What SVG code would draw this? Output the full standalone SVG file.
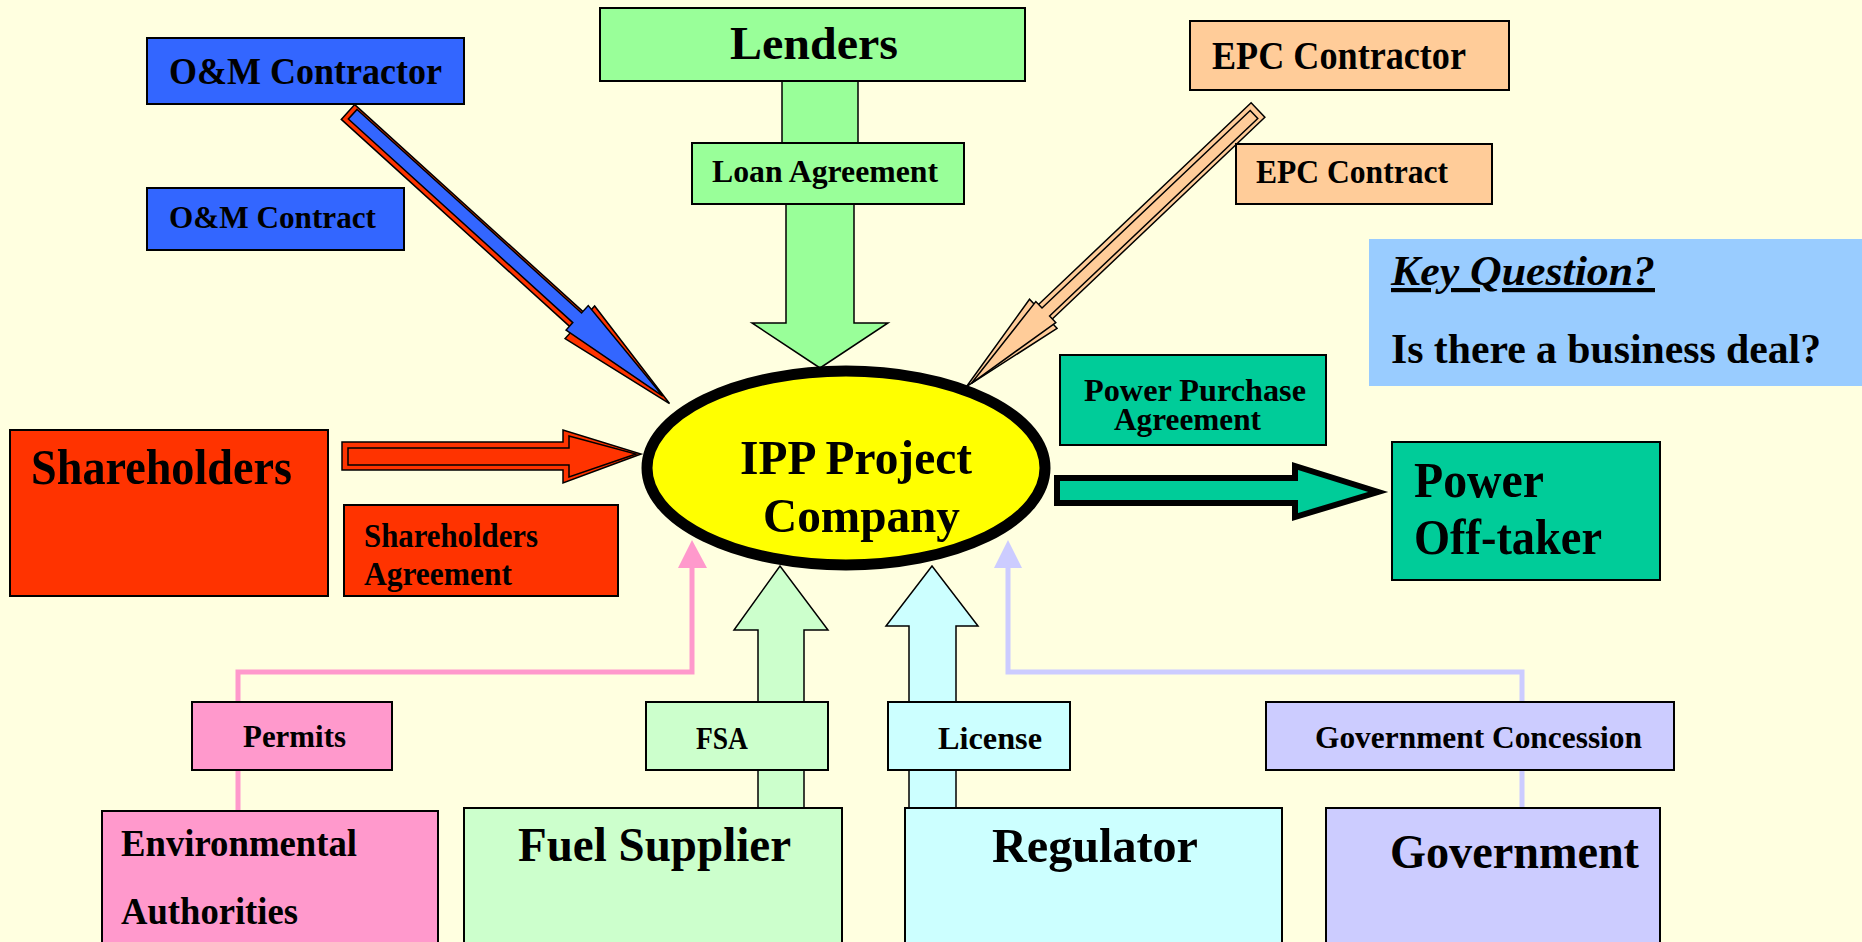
<svg xmlns="http://www.w3.org/2000/svg" width="1862" height="942" viewBox="0 0 1862 942">
  <style>
    .box { stroke: #000; stroke-width: 2; }
    .t { font-family: "Liberation Serif", "Times New Roman", serif; font-weight: bold; fill: #000; }
    .blk { stroke: #000; stroke-width: 1.5; stroke-linejoin: miter; }
    .om { fill: #3366FF; }
    .red { fill: #FF3300; }
    .green { fill: #99FF99; }
    .peach { fill: #FFCC99; }
    .teal { fill: #00CC99; }
    .pink { fill: #FF99CC; }
    .lgreen { fill: #CCFFCC; }
    .cyan { fill: #CCFFFF; }
    .lav { fill: #CCCCFF; }
    .line { fill: none; stroke-width: 5; stroke-linejoin: miter; }
  </style>

  <rect x="0" y="0" width="1862" height="942" fill="#FFFFE0"/>

  <!-- connectors -->
  <g id="connectors">
    <!-- Lenders -> IPP -->
    <rect class="green blk" x="782" y="81" width="76" height="63"/>
    <polygon class="green blk" points="786,204 854,204 854,323 888,323 820,368 752,323 786,323"/>

    <!-- O&M Contractor -> IPP (bevelled 3D arrow) -->
    <g transform="translate(348,112) rotate(42.2)">
      <polygon class="red blk" points="0,-10 313,-10 313,-22 434,0 313,22 313,10 0,10"/>
      <polygon class="om blk" points="5,-8 308,-8 308,-18 424,-1 308,15 308,5 5,5"/>
    </g>

    <!-- EPC Contractor -> IPP (bevelled 3D arrow) -->
    <g transform="translate(1258,110) rotate(136.5)">
      <polygon class="peach blk" points="0,-10 296,-10 296,-20 402,0 296,20 296,10 0,10"/>
      <polygon class="peach blk" points="6,-6 293,-6 293,-15 396,-1 293,14 293,5 6,5"/>
    </g>

    <!-- Shareholders -> IPP -->
    <polygon class="red blk" points="342,442 563,442 563,430 641,454 563,483 563,470 342,470"/>
    <polygon class="red blk" points="348,448 569,448 569,436 636,454 569,477 569,465 348,465"/>

    <!-- IPP -> Power Off-taker -->
    <polygon class="teal" stroke="#000" stroke-width="6" points="1057,478 1295,478 1295,466 1378,492 1295,517 1295,503 1057,503"/>

    <!-- Environmental Authorities -> IPP -->
    <polyline class="line" stroke="#FF99CC" points="238,811 238,672 692,672 692,566"/>
    <polygon class="pink" points="678,568 707,568 692,540"/>

    <!-- Fuel Supplier -> IPP -->
    <polygon class="lgreen blk" points="758,808 758,630 734,630 780,566 828,630 804,630 804,808"/>

    <!-- Regulator -> IPP -->
    <polygon class="cyan blk" points="909,808 909,626 886,626 932,566 978,626 956,626 956,808"/>

    <!-- Government -> IPP -->
    <polyline class="line" stroke="#CCCCFF" points="1522,808 1522,672 1008,672 1008,566"/>
    <polygon class="lav" points="994,568 1022,568 1008,540"/>
  </g>

  <g id="om-contractor">
    <rect class="box om" x="147" y="38" width="317" height="66"/>
    <text class="t" x="169" y="84" font-size="38" textLength="273" lengthAdjust="spacingAndGlyphs">O&amp;M Contractor</text>
  </g>

  <g id="om-contract">
    <rect class="box om" x="147" y="188" width="257" height="62"/>
    <text class="t" x="169" y="228" font-size="32" textLength="207" lengthAdjust="spacingAndGlyphs">O&amp;M Contract</text>
  </g>

  <g id="lenders">
    <rect class="box green" x="600" y="8" width="425" height="73"/>
    <text class="t" x="730" y="59" font-size="46" textLength="168" lengthAdjust="spacingAndGlyphs">Lenders</text>
  </g>

  <g id="loan-agreement">
    <rect class="box green" x="692" y="143" width="272" height="61"/>
    <text class="t" x="712" y="182" font-size="31" textLength="226" lengthAdjust="spacingAndGlyphs">Loan Agreement</text>
  </g>

  <g id="epc-contractor">
    <rect class="box peach" x="1190" y="21" width="319" height="69"/>
    <text class="t" x="1212" y="69" font-size="39" textLength="254" lengthAdjust="spacingAndGlyphs">EPC Contractor</text>
  </g>

  <g id="epc-contract">
    <rect class="box peach" x="1236" y="144" width="256" height="60"/>
    <text class="t" x="1256" y="183" font-size="33" textLength="192" lengthAdjust="spacingAndGlyphs">EPC Contract</text>
  </g>

  <g id="key-question">
    <rect x="1369" y="239" width="493" height="147" fill="#99CCFF"/>
    <text class="t" x="1391" y="285" font-size="42" font-style="italic" text-decoration="underline" textLength="264" lengthAdjust="spacingAndGlyphs">Key Question?</text>
    <text class="t" x="1391" y="363" font-size="43" textLength="430" lengthAdjust="spacingAndGlyphs">Is there a business deal?</text>
  </g>

  <g id="ppa">
    <rect class="box teal" x="1060" y="355" width="266" height="90"/>
    <text class="t" x="1084" y="401" font-size="32" textLength="222" lengthAdjust="spacingAndGlyphs">Power Purchase</text>
    <text class="t" x="1114" y="430" font-size="32" textLength="147" lengthAdjust="spacingAndGlyphs">Agreement</text>
  </g>

  <g id="ipp">
    <ellipse cx="846" cy="468" rx="199" ry="97" fill="#FFFF00" stroke="#000" stroke-width="11"/>
    <text class="t" x="740" y="474" font-size="49" textLength="232" lengthAdjust="spacingAndGlyphs">IPP Project</text>
    <text class="t" x="763" y="532" font-size="49" textLength="197" lengthAdjust="spacingAndGlyphs">Company</text>
  </g>

  <g id="off-taker">
    <rect class="box teal" x="1392" y="442" width="268" height="138"/>
    <text class="t" x="1414" y="497" font-size="50" textLength="130" lengthAdjust="spacingAndGlyphs">Power</text>
    <text class="t" x="1414" y="554" font-size="50" textLength="188" lengthAdjust="spacingAndGlyphs">Off-taker</text>
  </g>

  <g id="shareholders">
    <rect class="box red" x="10" y="430" width="318" height="166"/>
    <text class="t" x="31" y="484" font-size="50" textLength="261" lengthAdjust="spacingAndGlyphs">Shareholders</text>
  </g>

  <g id="shareholders-agreement">
    <rect class="box red" x="344" y="505" width="274" height="91"/>
    <text class="t" x="364" y="547" font-size="33" textLength="174" lengthAdjust="spacingAndGlyphs">Shareholders</text>
    <text class="t" x="364" y="585" font-size="33" textLength="148" lengthAdjust="spacingAndGlyphs">Agreement</text>
  </g>

  <g id="permits">
    <rect class="box pink" x="192" y="702" width="200" height="68"/>
    <text class="t" x="243" y="747" font-size="32" textLength="103" lengthAdjust="spacingAndGlyphs">Permits</text>
  </g>

  <g id="fsa">
    <rect class="box lgreen" x="646" y="702" width="182" height="68"/>
    <text class="t" x="696" y="749" font-size="32" textLength="52" lengthAdjust="spacingAndGlyphs">FSA</text>
  </g>

  <g id="license">
    <rect class="box cyan" x="888" y="702" width="182" height="68"/>
    <text class="t" x="938" y="749" font-size="32" textLength="104" lengthAdjust="spacingAndGlyphs">License</text>
  </g>

  <g id="government-concession">
    <rect class="box lav" x="1266" y="702" width="408" height="68"/>
    <text class="t" x="1315" y="748" font-size="32" textLength="327" lengthAdjust="spacingAndGlyphs">Government Concession</text>
  </g>

  <g id="environmental-authorities">
    <rect class="box pink" x="102" y="811" width="336" height="150"/>
    <text class="t" x="121" y="856" font-size="38" textLength="236" lengthAdjust="spacingAndGlyphs">Environmental</text>
    <text class="t" x="121" y="924" font-size="38" textLength="177" lengthAdjust="spacingAndGlyphs">Authorities</text>
  </g>

  <g id="fuel-supplier">
    <rect class="box lgreen" x="464" y="808" width="378" height="153"/>
    <text class="t" x="518" y="861" font-size="48" textLength="273" lengthAdjust="spacingAndGlyphs">Fuel Supplier</text>
  </g>

  <g id="regulator">
    <rect class="box cyan" x="905" y="808" width="377" height="153"/>
    <text class="t" x="992" y="862" font-size="48" textLength="206" lengthAdjust="spacingAndGlyphs">Regulator</text>
  </g>

  <g id="government">
    <rect class="box lav" x="1326" y="808" width="334" height="153"/>
    <text class="t" x="1390" y="868" font-size="48" textLength="249" lengthAdjust="spacingAndGlyphs">Government</text>
  </g>
</svg>
